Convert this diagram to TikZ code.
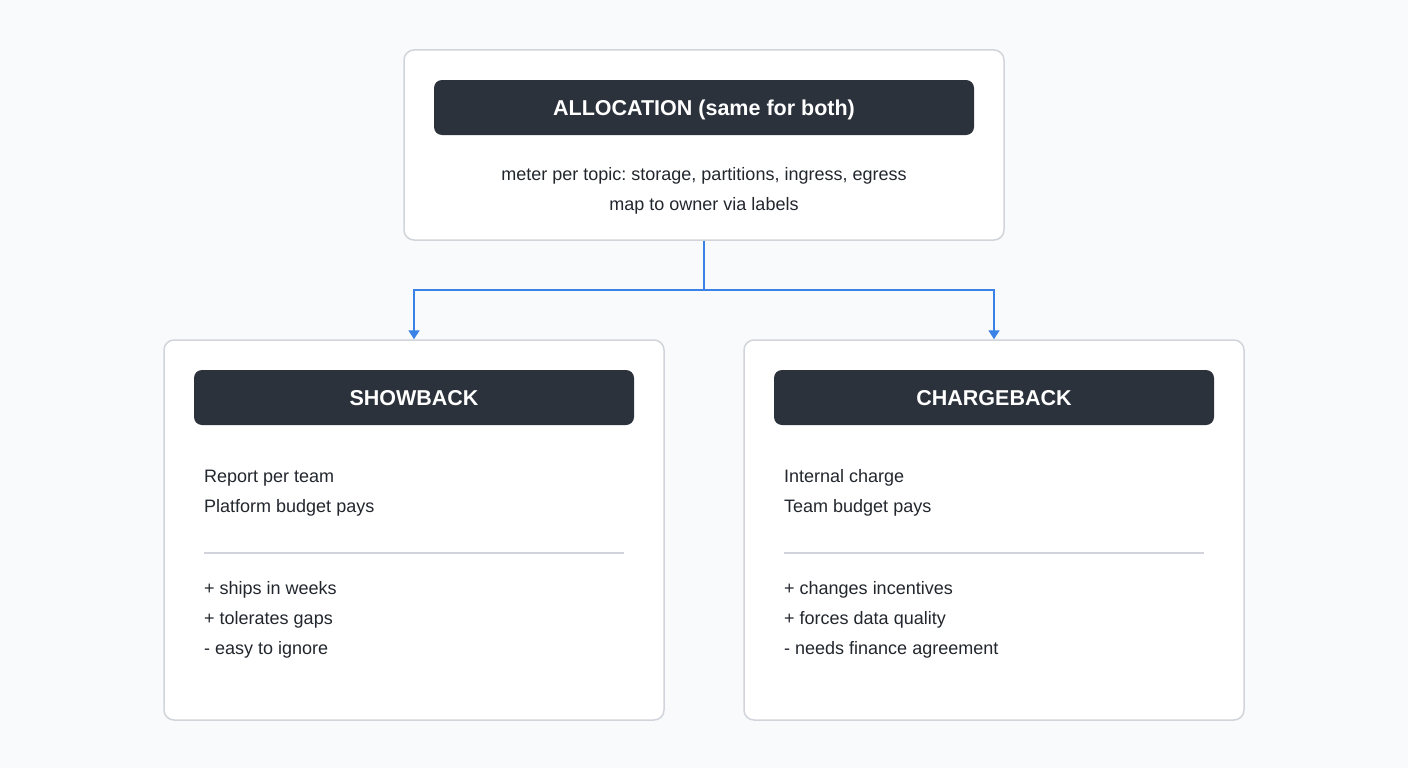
\documentclass[tikz,border=0pt]{standalone}
\usepackage{fontspec}
\setmainfont{Liberation Sans}
\frenchspacing
\usetikzlibrary{arrows.meta}
\definecolor{bgcol}{HTML}{F8FAFC}
\definecolor{edgecol}{HTML}{D1D5DB}
\definecolor{headcol}{HTML}{2B323B}
\definecolor{textcol}{HTML}{22272E}
\definecolor{linkcol}{HTML}{3B82E6}
\tikzset{
  panel/.style={draw=edgecol, line width=1.5pt, fill=white, rounded corners=10pt, inner sep=0pt},
  header/.style={fill=headcol, rounded corners=8pt, text=white, font=\fontsize{21.5}{25}\selectfont\bfseries,
    minimum height=55pt, inner sep=0pt, text height=15.4pt, text depth=0pt},
  body/.style={text=textcol, font=\fontsize{18}{21}\selectfont, inner sep=0pt},
  divider/.style={draw=edgecol, line width=2pt},
  link/.style={draw=linkcol, line width=1.8pt, -{Triangle[width=11pt,length=9pt]}}
}
\begin{document}
\begin{tikzpicture}[x=1pt,y=-1pt]
\fill[bgcol] (0,0) rectangle (1408,768);
% allocation
\node[panel, minimum width=600pt, minimum height=190pt] (alloc) at (704,145) {};
\node[header, minimum width=540pt] (allochead) at (704,107.5) {ALLOCATION (same for both)};
\node[body, anchor=base] (meter) at (704,180) {meter per topic: storage, partitions, ingress, egress};
\node[body, anchor=base] (owner) at (704,210) {map to owner via labels};
% showback
\node[panel, minimum width=500pt, minimum height=380pt] (show) at (414,530) {};
\node[header, minimum width=440pt] (showhead) at (414,397.5) {SHOWBACK};
\node[body, anchor=base west] (show1) at (204,482) {Report per team};
\node[body, anchor=base west] (show2) at (204,512) {Platform budget pays};
\draw[divider] (204,553) -- (624,553);
\node[body, anchor=base west] (show3) at (204,594) {+ ships in weeks};
\node[body, anchor=base west] (show4) at (204,624) {+ tolerates gaps};
\node[body, anchor=base west] (show5) at (204,654) {- easy to ignore};
% chargeback
\node[panel, minimum width=500pt, minimum height=380pt] (charge) at (994,530) {};
\node[header, minimum width=440pt] (chargehead) at (994,397.5) {CHARGEBACK};
\node[body, anchor=base west] (charge1) at (784,482) {Internal charge};
\node[body, anchor=base west] (charge2) at (784,512) {Team budget pays};
\draw[divider] (784,553) -- (1204,553);
\node[body, anchor=base west] (charge3) at (784,594) {+ changes incentives};
\node[body, anchor=base west] (charge4) at (784,624) {+ forces data quality};
\node[body, anchor=base west] (charge5) at (784,654) {- needs finance agreement};
% links
\coordinate (split) at (704,290);
\draw[link] (alloc.south) -- (split) -| (show.north);
\draw[link] (alloc.south) -- (split) -| (charge.north);
\end{tikzpicture}
\end{document}
